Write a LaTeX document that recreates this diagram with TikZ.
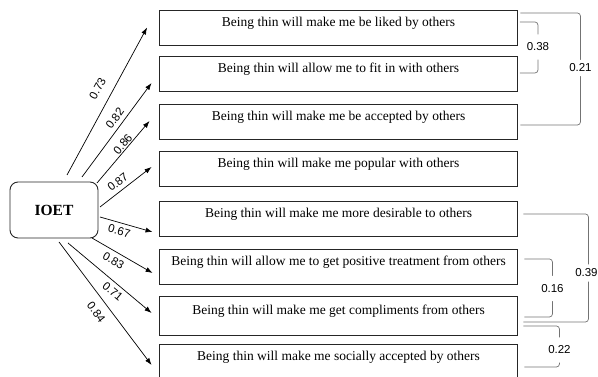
\documentclass[tikz,border=0pt]{standalone}
\usepackage{fontspec}
\setmainfont{Liberation Serif}
\newfontfamily\numfont{Liberation Sans}
\usetikzlibrary{arrows.meta}

\begin{document}
\begin{tikzpicture}[x=1pt,y=1pt,
  factor/.style={draw=black!85, line width=0.9pt, rounded corners=8pt,
    minimum width=88pt, minimum height=56pt, font=\fontsize{15.5}{18}\selectfont\bfseries},
  item/.style={draw=black!85, line width=0.9pt, minimum width=358pt, minimum height=35pt,
    inner sep=0pt, text height=9pt, text depth=11pt, font=\fontsize{13.5}{16}\selectfont},
  load/.style={-{Latex[length=7pt,width=5pt]}, line width=0.7pt},
  wt/.style={font=\numfont\fontsize{11.5}{13}\selectfont, inner sep=0pt, sloped},
  cov/.style={draw=black!55, line width=0.7pt, rounded corners=3pt},
  covlbl/.style={font=\numfont\fontsize{11.5}{13}\selectfont, fill=white, inner xsep=1pt, inner ysep=8.5pt}]
  \useasboundingbox (0,0) rectangle (598,377);

  % Factor latente
  \node[factor] (ioet) at (54,167) {IOET};

  % Items
  \node[item] (b1) at (338.5,349.5) {Being thin will make me be liked by others};
  \node[item] (b2) at (338.5,303) {Being thin will allow me to fit in with others};
  \node[item] (b3) at (338.5,255) {Being thin will make me be accepted by others};
  \node[item] (b4) at (338.5,208) {Being thin will make me popular with others};
  \node[item] (b5) at (338.5,158.5) {Being thin will make me more desirable to others};
  \node[item] (b6) at (338.5,110) {Being thin will allow me to get positive treatment from others};
  \node[item, minimum height=39pt] (b7) at (338.5,61.5) {Being thin will make me get compliments from others};
  \node[item] (b8) at (338.5,15) {Being thin will make me socially accepted by others};

  % Cargas factoriales
  \draw[load] ([shift={(13,35)}]ioet.center) -- node[wt, pos=0.54, above=10pt] {0.73} ([xshift=-12pt]b1.west);
  \draw[load] ([shift={(28,33)}]ioet.center) -- node[wt, pos=0.57, above=4pt] {0.82} ([xshift=-7.5pt,yshift=-9pt]b2.west);
  \draw[load] ([shift={(43,27)}]ioet.center) -- node[wt, pos=0.57, above=1pt] {0.86} ([xshift=-9.5pt,yshift=1pt]b3.west);
  \draw[load] ([shift={(46,3)}]ioet.center) -- node[wt, pos=0.45, above=4.5pt] {0.87} ([xshift=-7.5pt,yshift=2pt]b4.west);
  \draw[load] ([shift={(46,-7)}]ioet.center) -- node[wt, pos=0.41, below=4pt] {0.67} ([xshift=-6.5pt,yshift=-13.5pt]b5.west);
  \draw[load] ([shift={(38,-28)}]ioet.center) -- node[wt, pos=0.43, below=4.5pt] {0.83} ([xshift=-6.5pt,yshift=-6pt]b6.west);
  \draw[load] ([shift={(14,-33)}]ioet.center) -- node[wt, pos=0.6, below=4pt] {0.71} ([xshift=-7.5pt,yshift=2.5pt]b7.west);
  \draw[load] ([shift={(5,-32)}]ioet.center) -- node[wt, pos=0.51, below=8pt] {0.84} ([xshift=-7.5pt,yshift=-3pt]b8.west);

  % Covarianzas de error
  \draw[cov] ([xshift=2pt,yshift=5.5pt]b1.east) -| ++(18,-25) node[covlbl] {0.38} |- ([xshift=2pt,yshift=1pt]b2.east);
  \draw[cov] ([xshift=2.5pt,yshift=14.5pt]b1.east) -| ++(60,-55) node[covlbl, inner ysep=4pt] {0.21} |- ([xshift=2.5pt,yshift=-3pt]b3.east);
  \draw[cov] ([xshift=5.5pt,yshift=4.5pt]b5.east) -| ++(65,-59) node[covlbl, inner ysep=4.5pt, xshift=-2pt] {0.39} |- ([xshift=5.5pt,yshift=-6.5pt]b7.east);
  \draw[cov] ([xshift=6.5pt,yshift=8pt]b6.east) -| ++(28,-29.5) node[covlbl] {0.16} |- ([xshift=6.5pt,yshift=-1.5pt]b7.east);
  \draw[cov] ([xshift=5.5pt,yshift=-10.5pt]b7.east) -| ++(36,-24) node[covlbl] {0.22} |- ([xshift=6.5pt,yshift=-5pt]b8.east);
\end{tikzpicture}
\end{document}
